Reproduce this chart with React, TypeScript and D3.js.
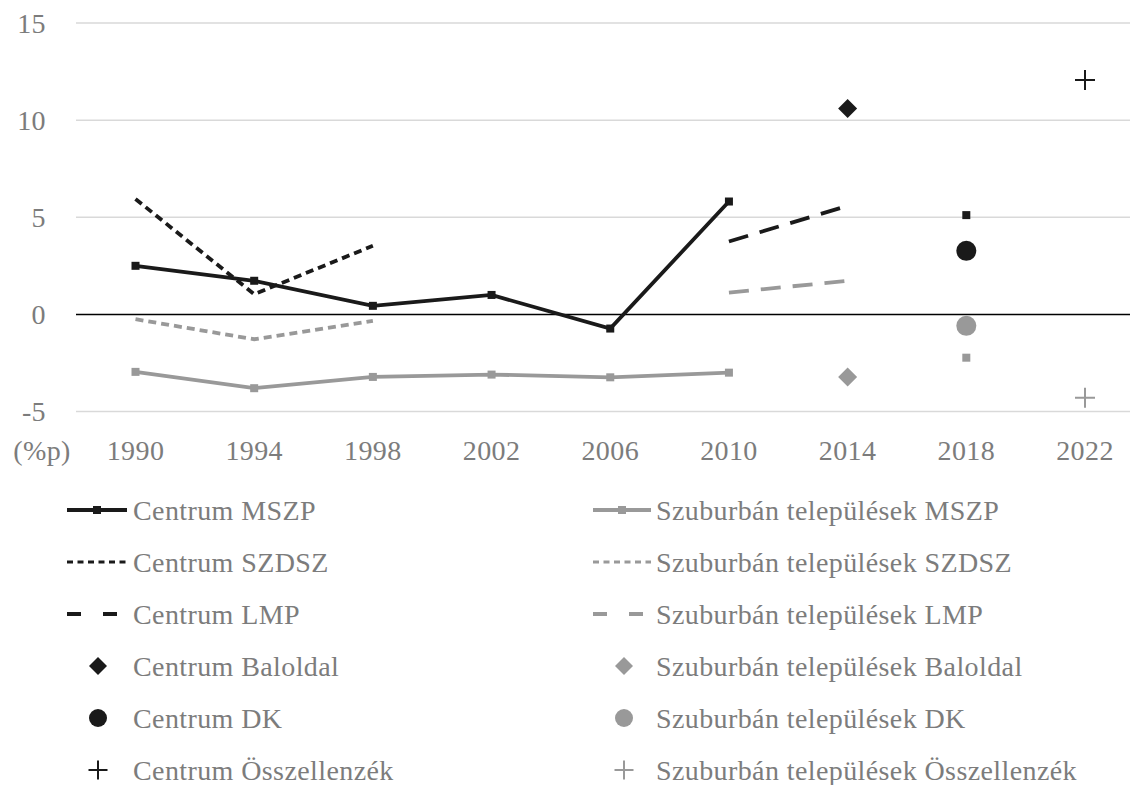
import React from "react";
import * as d3 from "d3";

const years = ["1990", "1994", "1998", "2002", "2006", "2010", "2014", "2018", "2022"];
const yTicks = [15, 10, 5, 0, -5];

const centrumMSZP = [2.5, 1.73, 0.44, 1.0, -0.73, 5.81, null, 5.11, null];
const szubMSZP = [-2.96, -3.8, -3.22, -3.1, -3.24, -3.0, null, -2.23, null];
const centrumSZDSZ = [5.94, 1.04, 3.53, null, null, null, null, null, null];
const szubSZDSZ = [-0.25, -1.28, -0.33, null, null, null, null, null, null];
const centrumLMP = [null, null, null, null, null, 3.75, 5.59, null, null];
const szubLMP = [null, null, null, null, null, 1.12, 1.73, null, null];
const centrumBaloldal = [null, null, null, null, null, null, 10.6, null, null];
const szubBaloldal = [null, null, null, null, null, null, -3.22, null, null];
const centrumDK = [null, null, null, null, null, null, null, 3.27, null];
const szubDK = [null, null, null, null, null, null, null, -0.59, null];
const centrumOssz = [null, null, null, null, null, null, null, null, 12.07];
const szubOssz = [null, null, null, null, null, null, null, null, -4.29];

const legendLeft = ["Centrum MSZP", "Centrum SZDSZ", "Centrum LMP", "Centrum Baloldal", "Centrum DK", "Centrum Összellenzék"];
const legendRight = [
  "Szuburbán települések MSZP",
  "Szuburbán települések SZDSZ",
  "Szuburbán települések LMP",
  "Szuburbán települések Baloldal",
  "Szuburbán települések DK",
  "Szuburbán települések Összellenzék",
];

const BLACK = "#1a1a1a";
const GRAY = "#999999";
const TEXT = "#7c7c7c";
const FONT = "'Liberation Serif', serif";

export default function App() {
  const W = 1130, H = 785;
  const x = d3.scalePoint<string>().domain(years).range([135.5, 1085]);
  const y = d3.scaleLinear().domain([-5, 15]).range([411.5, 23]);
  const plotLeft = 76;
  const SW = 3.8;

  const line = (vals: (number | null)[]) =>
    d3
      .line<number | null>()
      .defined((d) => d != null)
      .x((_, i) => x(years[i])!)
      .y((d) => y(d as number))(vals) || "";

  const squares = (vals: (number | null)[], color: string, s: number) =>
    vals.map((v, i) =>
      v == null ? null : (
        <rect key={i} x={x(years[i])! - s / 2} y={y(v) - s / 2} width={s} height={s} fill={color} />
      )
    );

  const diamond = (cx: number, cy: number, h: number, color: string, key?: any) => (
    <path key={key} d={`M${cx},${cy - h}L${cx + h},${cy}L${cx},${cy + h}L${cx - h},${cy}Z`} fill={color} />
  );
  const plus = (cx: number, cy: number, h: number, color: string, key?: any) => (
    <path key={key} d={`M${cx - h},${cy}H${cx + h}M${cx},${cy - h}V${cy + h}`} stroke={color} strokeWidth={2} fill="none" />
  );

  const points = (vals: (number | null)[], fn: (cx: number, cy: number, i: number) => React.ReactNode) =>
    vals.map((v, i) => (v == null ? null : fn(x(years[i])!, y(v), i)));

  const rowY = [510, 562, 614, 666, 718, 770];
  const leftSym = [67, 127];
  const rightSym = [593, 651];

  const legendSymbol = (idx: number, color: string, x0: number, x1: number, cy: number) => {
    const mid = (x0 + x1) / 2;
    switch (idx) {
      case 0:
        return (
          <g>
            <line x1={x0} x2={x1} y1={cy} y2={cy} stroke={color} strokeWidth={SW} />
            <rect x={mid - 4} y={cy - 4} width={8} height={8} fill={color} />
          </g>
        );
      case 1:
        return <line x1={x0} x2={x1} y1={cy} y2={cy} stroke={color} strokeWidth={3} strokeDasharray="6 4.5" />;
      case 2:
        return <line x1={x0} x2={x1} y1={cy} y2={cy} stroke={color} strokeWidth={SW} strokeDasharray="14 22" />;
      case 3:
        return diamond(x0 + 31, cy, 9, color);
      case 4:
        return <circle cx={x0 + 31} cy={cy} r={9} fill={color} />;
      default:
        return plus(x0 + 31, cy, 9.5, color);
    }
  };

  const textProps = { fontSize: 28, fill: TEXT, letterSpacing: 0.4 };

  return (
    <svg width={W} height={H} style={{ position: "absolute", left: 0, top: 0, background: "#fff" }} fontFamily={FONT}>
      <rect width={W} height={H} fill="#fff" />
      {yTicks.map((t) =>
        t === 0 ? null : (
          <line key={t} x1={plotLeft} x2={W} y1={y(t)} y2={y(t)} stroke="#d9d9d9" strokeWidth={1.5} />
        )
      )}
      {yTicks.map((t) => (
        <text key={t} x={46} y={y(t)} dy="0.34em" textAnchor="end" {...textProps}>
          {t}
        </text>
      ))}
      <line x1={plotLeft} x2={W} y1={y(0)} y2={y(0)} stroke="#000" strokeWidth={1.5} />
      <text x={42} y={450} dy="0.34em" textAnchor="middle" {...textProps}>
        (%p)
      </text>
      {years.map((yr) => (
        <text key={yr} x={x(yr)!} y={450} dy="0.34em" textAnchor="middle" {...textProps}>
          {yr}
        </text>
      ))}

      <path d={line(szubMSZP)} stroke={GRAY} strokeWidth={SW} fill="none" />
      <path d={line(szubSZDSZ)} stroke={GRAY} strokeWidth={SW} fill="none" strokeDasharray="8 5" />
      <path d={line(szubLMP)} stroke={GRAY} strokeWidth={SW} fill="none" strokeDasharray="20 12" />
      <path d={line(centrumSZDSZ)} stroke={BLACK} strokeWidth={SW} fill="none" strokeDasharray="8 5" />
      <path d={line(centrumLMP)} stroke={BLACK} strokeWidth={SW} fill="none" strokeDasharray="20 12" />
      <path d={line(centrumMSZP)} stroke={BLACK} strokeWidth={SW} fill="none" />
      {squares(szubMSZP, GRAY, 8)}
      {squares(centrumMSZP, BLACK, 8)}

      {points(centrumBaloldal, (cx, cy, i) => diamond(cx, cy, 9.5, BLACK, "cb" + i))}
      {points(szubBaloldal, (cx, cy, i) => diamond(cx, cy, 9.5, GRAY, "sb" + i))}
      {points(centrumDK, (cx, cy, i) => <circle key={"cd" + i} cx={cx} cy={cy} r={10} fill={BLACK} />)}
      {points(szubDK, (cx, cy, i) => <circle key={"sd" + i} cx={cx} cy={cy} r={10} fill={GRAY} />)}
      {points(centrumOssz, (cx, cy, i) => plus(cx, cy, 10, BLACK, "co" + i))}
      {points(szubOssz, (cx, cy, i) => plus(cx, cy, 10, GRAY, "so" + i))}

      {legendLeft.map((label, i) => (
        <g key={label}>
          {legendSymbol(i, BLACK, leftSym[0], leftSym[1], rowY[i])}
          <text x={133} y={rowY[i]} dy="0.34em" {...textProps}>
            {label}
          </text>
        </g>
      ))}
      {legendRight.map((label, i) => (
        <g key={label}>
          {legendSymbol(i, GRAY, rightSym[0], rightSym[1], rowY[i])}
          <text x={656} y={rowY[i]} dy="0.34em" {...textProps}>
            {label}
          </text>
        </g>
      ))}
    </svg>
  );
}
